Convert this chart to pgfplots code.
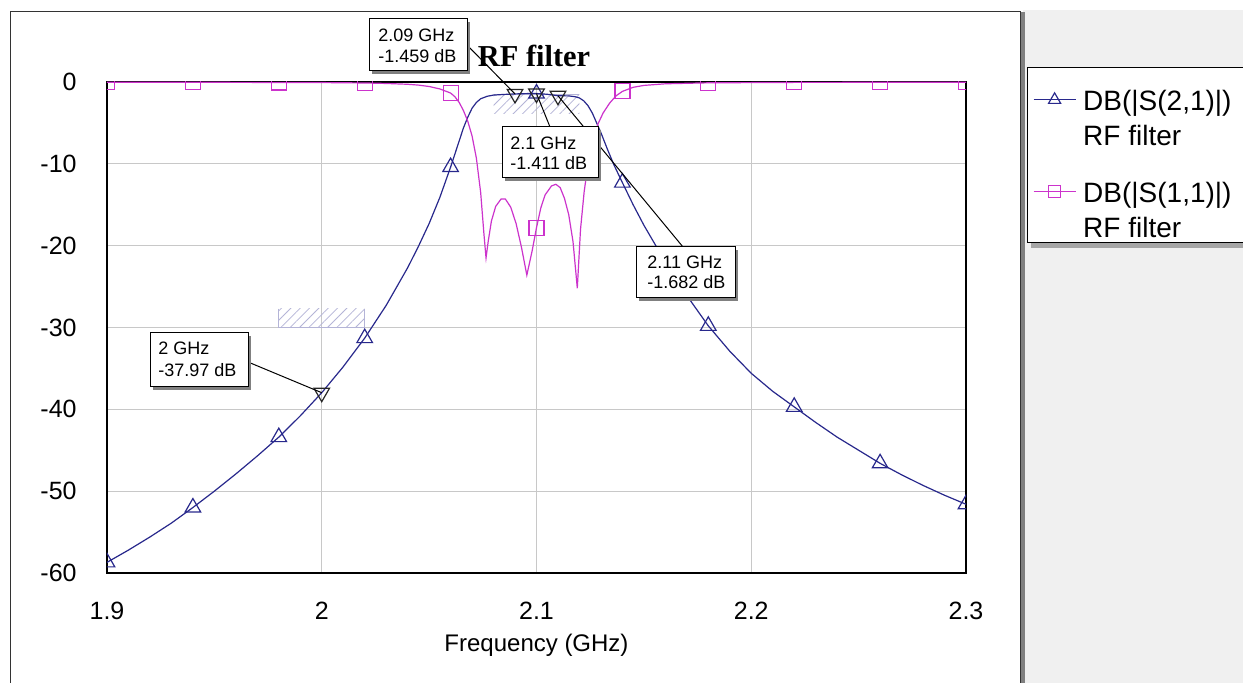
\documentclass[border=0pt]{standalone}
\usepackage{fontspec}
\setmainfont{Liberation Sans}
\newfontfamily\titlefont{Liberation Serif}
\usepackage{pgfplots}
\usepackage{pgfplotstable}
\pgfplotsset{compat=1.18}
\usetikzlibrary{patterns.meta}
\definecolor{sA}{RGB}{40,40,140}
\definecolor{sB}{RGB}{204,51,204}
\definecolor{gridc}{RGB}{200,200,200}
\definecolor{maskc}{RGB}{180,180,215}
\definecolor{panel}{RGB}{240,240,240}
\definecolor{shadowc}{RGB}{128,128,128}

\pgfplotstableread{
f db
1.90 -58.7
1.91 -57.2
1.92 -55.6
1.93 -53.9
1.94 -52.0
1.95 -50.0
1.96 -47.9
1.97 -45.7
1.98 -43.4
1.99 -40.8
2.00 -37.97
2.01 -34.8
2.02 -31.3
2.03 -27.3
2.04 -22.7
2.045 -20.1
2.05 -17.3
2.055 -14.1
2.06 -10.4
2.063 -8.0
2.066 -5.6
2.068 -4.3
2.07 -3.2
2.072 -2.5
2.074 -2.05
2.077 -1.75
2.08 -1.6
2.085 -1.52
2.09 -1.459
2.095 -1.42
2.10 -1.411
2.105 -1.5
2.11 -1.682
2.115 -1.7
2.118 -1.8
2.12 -1.95
2.122 -2.3
2.124 -2.9
2.126 -3.8
2.128 -5.0
2.13 -6.2
2.133 -8.2
2.136 -10.1
2.14 -12.3
2.145 -15.0
2.15 -17.5
2.16 -22.0
2.17 -26.1
2.18 -29.8
2.19 -32.9
2.20 -35.6
2.21 -37.8
2.22 -39.7
2.23 -41.6
2.24 -43.4
2.25 -45.0
2.26 -46.6
2.27 -48.0
2.28 -49.3
2.29 -50.5
2.30 -51.6
}\sTwoOne

\pgfplotstableread{
f db
1.90 -0.03
1.95 -0.04
2.00 -0.07
2.02 -0.12
2.03 -0.18
2.04 -0.28
2.045 -0.38
2.05 -0.55
2.055 -0.85
2.06 -1.35
2.062 -1.8
2.064 -2.5
2.066 -3.5
2.068 -4.8
2.07 -6.6
2.072 -9.3
2.074 -13.5
2.0755 -18.5
2.0765 -21.5
2.0775 -19.5
2.079 -17.0
2.081 -15.2
2.0835 -14.3
2.0855 -14.3
2.088 -15.3
2.0905 -17.3
2.093 -20.2
2.0955 -23.6
2.098 -20.6
2.10 -17.8
2.102 -15.4
2.104 -13.8
2.107 -12.7
2.109 -12.5
2.111 -12.9
2.113 -14.2
2.115 -16.2
2.117 -19.5
2.119 -25.2
2.1205 -18.0
2.1222 -13.4
2.124 -10.0
2.126 -7.6
2.1285 -5.2
2.131 -3.8
2.134 -2.6
2.137 -1.7
2.14 -1.15
2.145 -0.65
2.15 -0.42
2.16 -0.22
2.18 -0.10
2.22 -0.05
2.30 -0.03
}\sOneOne

\begin{document}
\begin{tikzpicture}
% background in pixel coordinates
\begin{scope}[x=0.5pt,y=-0.5pt,shift={(0pt,341.5pt)}]
\fill[white] (0,0) rectangle (1243,683);
\fill[panel] (1023,10) rectangle (1243,683);
\draw[black!80, line width=0.5pt] (10,690) -- (10,12) -- (1020,12) -- (1020,690);
\fill[shadowc] (1021,12) rectangle (1025,690);
\fill[shadowc!70] (1031,72) rectangle (1250,248);
\filldraw[fill=white, draw=black, line width=0.5pt] (1027,68) rectangle (1250,243);
\end{scope}

\begin{axis}[
  at={(53.5pt,55pt)}, anchor=south west,
  scale only axis, width=429.5pt, height=245.5pt,
  xmin=1.9, xmax=2.3, ymin=-60, ymax=0,
  xtick={1.9,2,2.1,2.2,2.3}, xticklabels={1.9,2,2.1,2.2,2.3},
  ytick={-60,-50,-40,-30,-20,-10,0},
  yticklabels={-60,-50,-40,-30,-20,-10,0},
  major tick length=0pt,
  tick label style={font=\fontsize{12.5}{15}\selectfont, inner sep=0pt},
  xticklabel style={anchor=base, yshift=-23.5pt},
  yticklabel style={anchor=east, xshift=-15pt},
  xlabel={Frequency (GHz)},
  xlabel style={at={(axis description cs:0.5,-0.1589)}, anchor=base, font=\fontsize{12}{14}\selectfont, inner sep=0pt},
  grid=major, grid style={gridc, line width=0.5pt},
  axis line style={black, line width=0.6pt},
  clip marker paths=true,
  legend style={at={(axis description cs:1.0780,0.9825)}, anchor=north west,
    draw=none, fill=none, inner sep=0pt, outer sep=0pt,
    row sep=16.8pt, column sep=3.5pt,
    font=\fontsize{14}{17.5}\selectfont,
    cells={anchor=base west, align=left}, nodes={inner sep=0pt}},
  legend image code/.code={\draw[mark repeat=2,mark phase=2,#1] plot coordinates {(0pt,23pt) (10.5pt,23pt) (21pt,23pt)};},
]
% masks
\fill[pattern={Lines[angle=45,distance=3.3pt,line width=0.4pt]}, pattern color=maskc] (axis cs:2.08,-1.5) rectangle (axis cs:2.12,-3.8);
\draw[maskc, line width=0.5pt] (axis cs:2.08,-1.5) -- (axis cs:2.12,-1.5);
\fill[pattern={Lines[angle=45,distance=3.3pt,line width=0.4pt]}, pattern color=maskc] (axis cs:1.98,-30) rectangle (axis cs:2.02,-27.7);
\draw[maskc, line width=0.5pt] (axis cs:1.98,-27.7) -- (axis cs:1.98,-30) -- (axis cs:2.02,-30) -- (axis cs:2.02,-27.7);

\addplot[sA, line width=0.6pt, forget plot] table[x=f,y=db] {\sTwoOne};
\addplot[sB, line width=0.6pt, forget plot] table[x=f,y=db] {\sOneOne};
\addplot[sA, only marks, mark=triangle, mark size=4.5pt, mark options={line width=0.6pt}, forget plot] coordinates {
(1.90,-58.7) (1.94,-52.0) (1.98,-43.4) (2.02,-31.3) (2.06,-10.4) (2.10,-1.411)
(2.14,-12.3) (2.18,-29.8) (2.22,-39.7) (2.26,-46.6) (2.30,-51.6)};
\addplot[sB, only marks, mark=square, mark size=3.75pt, mark options={line width=0.6pt}, forget plot] coordinates {
(1.90,-0.03) (1.94,-0.04) (1.98,-0.06) (2.02,-0.12) (2.06,-1.35) (2.10,-17.8)
(2.14,-1.15) (2.18,-0.10) (2.22,-0.05) (2.26,-0.04) (2.30,-0.03)};
\addplot[black!85, only marks, mark=triangle, mark size=4.5pt, mark options={rotate=180, line width=0.6pt}, forget plot] coordinates {
(2.0,-37.97) (2.09,-1.459) (2.1,-1.411) (2.11,-1.682)};

\coordinate (m1) at (axis cs:2.0,-37.97);
\coordinate (m2) at (axis cs:2.09,-1.459);
\coordinate (m3) at (axis cs:2.1,-1.411);
\coordinate (m4) at (axis cs:2.11,-1.682);

\addlegendimage{sA, line width=0.6pt, mark=triangle, mark size=3.5pt}
\addlegendentry{DB(|S(2,1)|)\\RF filter}
\addlegendimage{sB, line width=0.6pt, mark=square, mark size=3pt}
\addlegendentry{DB(|S(1,1)|)\\RF filter}
\end{axis}

% annotations in pixel coordinates
\begin{scope}[x=0.5pt,y=-0.5pt,shift={(0pt,341.5pt)}]
\node[anchor=base, inner sep=0pt, font={\titlefont\bfseries\fontsize{15.2}{18}\selectfont}] at (534,67) {RF filter};
\draw[black, line width=0.5pt] (467,45) -- (m2);
\draw[black, line width=0.5pt] (550,127) -- (m3);
\draw[black, line width=0.5pt] (683,247) -- (m4);
\draw[black, line width=0.5pt] (248,362) -- (m1);
\begin{scope}[every node/.style={anchor=base west, inner sep=0pt, font=\fontsize{9}{11}\selectfont}]
\fill[shadowc] (372,22) rectangle (470,74);
\filldraw[fill=white, draw=black, line width=0.5pt] (369,19) rectangle (467,71);
\node at (378,42) {2.09 GHz};
\node at (378,63) {-1.459 dB};
\fill[shadowc] (505,130) rectangle (601,181);
\filldraw[fill=white, draw=black, line width=0.5pt] (502,127) rectangle (598,178);
\node at (510,150) {2.1 GHz};
\node at (510,170) {-1.411 dB};
\fill[shadowc] (639,250) rectangle (738,301);
\filldraw[fill=white, draw=black, line width=0.5pt] (636,247) rectangle (735,298);
\node at (647,269) {2.11 GHz};
\node at (647,289) {-1.682 dB};
\fill[shadowc] (153,336) rectangle (251,390);
\filldraw[fill=white, draw=black, line width=0.5pt] (150,333) rectangle (248,387);
\node at (158,355) {2 GHz};
\node at (158,377) {-37.97 dB};
\end{scope}
\end{scope}
\pgfresetboundingbox
\path[use as bounding box] (0,0) rectangle (621.5pt,341.5pt);
\end{tikzpicture}
\end{document}
